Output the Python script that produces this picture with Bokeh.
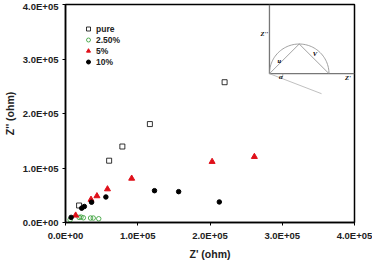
import math
from bokeh.plotting import figure
from bokeh.models import FixedTicker, Legend, LegendItem, Range1d
from bokeh.core.properties import value
from bokeh.embed import file_html
from bokeh.resources import INLINE

# ---- data (ohm) ----
pure_x = [18.8e3, 60.4e3, 78.7e3, 116.8e3, 220.2e3]
pure_y = [31.2e3, 113.4e3, 139.4e3, 180.6e3, 257.4e3]

p25_x = [6.4e3, 18.8e3, 21.5e3, 24.7e3, 34.7e3, 38.4e3, 46.0e3]
p25_y = [5.1e3, 9.4e3, 10.0e3, 8.7e3, 8.2e3, 8.2e3, 6.9e3]

p5_x = [14.1e3, 35.3e3, 43.5e3, 58.1e3, 91.6e3, 202.9e3, 261.4e3]
p5_y = [13.1e3, 42.1e3, 48.6e3, 61.3e3, 80.8e3, 111.6e3, 120.7e3]

p10_x = [7.8e3, 22.4e3, 26.1e3, 36.1e3, 55.9e3, 123.2e3, 156.6e3, 212.9e3]
p10_y = [9.4e3, 26.3e3, 29.4e3, 37.2e3, 46.8e3, 58.4e3, 56.6e3, 37.7e3]

series_names = ["pure", "2.50%", "5%", "10%"]

x_ticks = [0, 100000, 200000, 300000, 400000]
x_tick_labels = ["0.0E+00", "1.0E+05", "2.0E+05", "3.0E+05", "4.0E+05"]
y_ticks = [0, 100000, 200000, 300000, 400000]
y_tick_labels = ["0.0E+00", "1.0E+05", "2.0E+05", "3.0E+05", "4.0E+05"]

# inset schematic geometry (data units)
inset_x0, inset_y0 = 282.3e3, 273.1e3
semi_rx, semi_ry = 41.2e3, 54.4e3
desc_end = (354.4e3, 236.3e3)

FONT = "Liberation Sans"

p = figure(width=372, height=262, output_backend="svg", toolbar_location=None,
           x_range=Range1d(0, 400000), y_range=Range1d(0, 400000),
           min_border_left=62, min_border_right=18, min_border_top=4, min_border_bottom=38)
p.background_fill_color = "white"
p.border_fill_color = "white"
p.outline_line_color = "black"
p.outline_line_width = 1.5
p.xgrid.visible = False
p.ygrid.visible = False

for ax, ticks, labels in ((p.xaxis[0], x_ticks, x_tick_labels), (p.yaxis[0], y_ticks, y_tick_labels)):
    ax.ticker = FixedTicker(ticks=ticks)
    ax.major_label_overrides = {t: l for t, l in zip(ticks, labels)}
    ax.minor_tick_line_color = None
    ax.major_tick_in = 0
    ax.major_tick_out = 3
    ax.axis_line_color = "black"
    ax.axis_line_width = 1.5
    ax.major_label_text_font = FONT
    ax.major_label_text_font_style = "bold"
    ax.major_label_text_font_size = "9.5px"
    ax.major_label_text_color = "#222222"
    ax.axis_label_text_font = FONT
    ax.axis_label_text_font_style = "bold"
    ax.axis_label_text_font_size = "10.5px"
    ax.axis_label_text_color = "#222222"

p.xaxis.axis_label = "Z' (ohm)"
p.yaxis.axis_label = "Z'' (ohm)"
p.xaxis.major_label_standoff = 4
p.xaxis.axis_label_standoff = 4
p.yaxis.major_label_standoff = 4
p.yaxis.axis_label_standoff = 4

r_pure = p.scatter(pure_x, pure_y, marker="square", size=5, fill_color=None,
                   line_color="black", line_width=0.8)
r_25 = p.scatter(p25_x, p25_y, marker="circle", size=4.5, fill_color=None,
                 line_color="#2e9a2e", line_width=0.8)
r_5 = p.scatter(p5_x, p5_y, marker="triangle", size=6, fill_color="#e0101a",
                line_color="#e0101a")
r_10 = p.scatter(p10_x, p10_y, marker="circle", size=4.5, fill_color="black",
                 line_color="black")

legend = Legend(items=[LegendItem(label=n, renderers=[r]) for n, r in
                       zip(series_names, [r_pure, r_25, r_5, r_10])],
                location=(18, 155), orientation="vertical")
legend.border_line_color = None
legend.background_fill_alpha = 0
legend.label_text_font = FONT
legend.label_text_font_style = "bold"
legend.label_text_font_size = "8.5px"
legend.label_text_color = "#222222"
legend.glyph_width = 10
legend.glyph_height = 11
legend.label_height = 11
legend.label_standoff = 3
legend.spacing = 0
legend.padding = 0
legend.margin = 0
p.add_layout(legend)

# ---- inset schematic ----
gray = "#8a8a8a"
p.line([inset_x0, inset_x0], [inset_y0, 400000], line_color="#777777", line_width=1.3)
p.line([inset_x0, 400000], [inset_y0, inset_y0], line_color="#777777", line_width=1.3)
cx = inset_x0 + semi_rx
n = 60
arc_x = [cx - semi_rx * math.cos(math.pi * i / n) for i in range(n + 1)]
arc_y = [inset_y0 + semi_ry * math.sin(math.pi * i / n) for i in range(n + 1)]
p.line(arc_x, arc_y, line_color=gray, line_width=0.8)
p.line([inset_x0, cx, cx + semi_rx], [inset_y0, inset_y0 + semi_ry, inset_y0],
       line_color=gray, line_width=0.8)
p.line([inset_x0, desc_end[0]], [inset_y0, desc_end[1]], line_color="#b0b0b0", line_width=0.8)
ang = math.atan2((inset_y0 - desc_end[1]) / semi_ry, (desc_end[0] - inset_x0) / semi_rx)
ar = 0.45
sm_x = [inset_x0 + ar * semi_rx * math.cos(-ang * i / 10) for i in range(11)]
sm_y = [inset_y0 + ar * semi_ry * math.sin(-ang * i / 10) for i in range(11)]
p.line(sm_x, sm_y, line_color=gray, line_width=0.8)

inset_labels = ["Z''", "u", "V", "α", "Z'"]
inset_lx = [280.5e3, 296.0e3, 345.2e3, 298.0e3, 391.0e3]
inset_ly = [347.5e3, 296.7e3, 309.4e3, 267.7e3, 265.3e3]
inset_align = ["right", "center", "center", "center", "center"]
p.text(x=inset_lx, y=inset_ly, text=inset_labels, text_align=inset_align,
       text_baseline="middle", text_font=value("Liberation Serif"),
       text_font_style="bold italic", text_font_size="6.5px", text_color="black")

open("out.html", "w").write(file_html(p, INLINE))
